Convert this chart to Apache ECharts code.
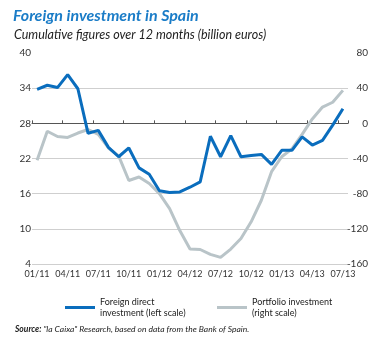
<!DOCTYPE html>
<html>
<head>
<meta charset="utf-8">
<script src="https://cdn.jsdelivr.net/npm/echarts@6/dist/echarts.min.js"></script>
<style>
html,body{margin:0;padding:0;background:#fff;}
#chart{width:382px;height:338px;}
</style>
</head>
<body>
<div id="chart"></div>
<script>
var months = ['01/11','02/11','03/11','04/11','05/11','06/11','07/11','08/11','09/11','10/11','11/11','12/11',
  '01/12','02/12','03/12','04/12','05/12','06/12','07/12','08/12','09/12','10/12','11/12','12/12',
  '01/13','02/13','03/13','04/13','05/13','06/13','07/13'];
var fdi = [33.8,34.5,34.1,36.3,33.9,26.3,26.8,23.9,22.3,23.8,20.4,19.3,
  16.5,16.2,16.3,17.1,18.0,25.8,22.3,25.9,22.3,22.5,22.7,21.0,
  23.4,23.4,25.7,24.3,25.1,27.7,30.5];
var portfolio = [-42,-9,-15,-16,-11,-7,-12.5,-28,-37,-65,-61,-68.5,
  -80,-97,-122,-143,-143.5,-149,-152.5,-143,-131,-112,-87.5,-55,
  -38,-29,-12.5,5,18.5,24,37.5];
var leftTicks = [4,10,16,22,28,34,40];
var rightTicks = [-160,-120,-80,-40,0,40,80];
var fdiName = 'Foreign direct\ninvestment (left scale)';
var pfName = 'Portfolio investment\n(right scale)';

var FONT = 'Lato';
var chart = echarts.init(document.getElementById('chart'), null, {renderer:'canvas'});
// gridline colours: one per tick, none at the top tick
var gridColors = leftTicks.map(function(v, i){ return i === leftTicks.length - 1 ? 'rgba(0,0,0,0)' : '#cfcfcf'; });

chart.setOption({
  animation: false,
  backgroundColor: '#ffffff',
  title: [
    {text: 'Foreign investment in Spain', left: 8, top: 3,
     textStyle: {fontFamily: FONT, fontSize: 16, fontWeight: 'bold', fontStyle: 'italic', color: '#1a7cc7'}},
    {text: 'Cumulative figures over 12 months (billion euros)', left: 9, top: 23,
     textStyle: {fontFamily: FONT, fontSize: 12.5, fontWeight: 'normal', fontStyle: 'italic', color: '#222'}},
    {text: '{b|Source:} "la Caixa" Research, based on data from the Bank of Spain.', left: 10, top: 320,
     textStyle: {fontFamily: FONT, fontSize: 8.5, fontStyle: 'italic', fontWeight: 'normal', color: '#222',
       rich: {b: {fontFamily: FONT, fontSize: 8.5, fontStyle: 'italic', fontWeight: 'bold', color: '#222'}}}}
  ],
  legend: [
    {data: [fdiName], left: 60, top: 292, itemWidth: 30, itemHeight: 3, itemGap: 0,
     icon: 'rect', textStyle: {fontFamily: FONT, fontSize: 9, color: '#222', lineHeight: 10.5}},
    {data: [pfName], left: 212, top: 292, itemWidth: 30, itemHeight: 3, itemGap: 0,
     icon: 'rect', textStyle: {fontFamily: FONT, fontSize: 9, color: '#222', lineHeight: 10.5}}
  ],
  grid: {left: 32, right: 34, top: 53, bottom: 74, containLabel: false},
  xAxis: {
    type: 'category', data: months, boundaryGap: true,
    axisLine: {show: true, lineStyle: {color: '#555', width: 1}},
    axisTick: {show: true, inside: true, length: 3, interval: 2, lineStyle: {color: '#555'}},
    axisLabel: {interval: 2, fontFamily: FONT, fontSize: 9, color: '#333', margin: 6},
    splitLine: {show: false}
  },
  yAxis: [
    {type: 'value', min: 4, max: 40, interval: 6, position: 'left',
     axisLine: {show: false}, axisTick: {show: false},
     splitLine: {show: true, lineStyle: {color: gridColors, width: 1}},
     axisLabel: {fontFamily: FONT, fontSize: 10, color: '#333', margin: 1}},
    {type: 'value', min: -160, max: 80, interval: 40, position: 'right',
     axisLine: {show: false}, axisTick: {show: false}, splitLine: {show: false},
     axisLabel: {fontFamily: FONT, fontSize: 10, color: '#333', margin: 20, align: 'right'}}
  ],
  series: [
    {name: pfName, type: 'line', yAxisIndex: 1, data: portfolio, symbol: 'none',
     lineStyle: {color: '#b9c4c8', width: 3}, itemStyle: {color: '#b9c4c8'}, z: 2},
    {name: fdiName, type: 'line', yAxisIndex: 0, data: fdi, symbol: 'none',
     lineStyle: {color: '#0a6dbd', width: 3}, itemStyle: {color: '#0a6dbd'}, z: 3}
  ]
});
</script>
</body>
</html>
